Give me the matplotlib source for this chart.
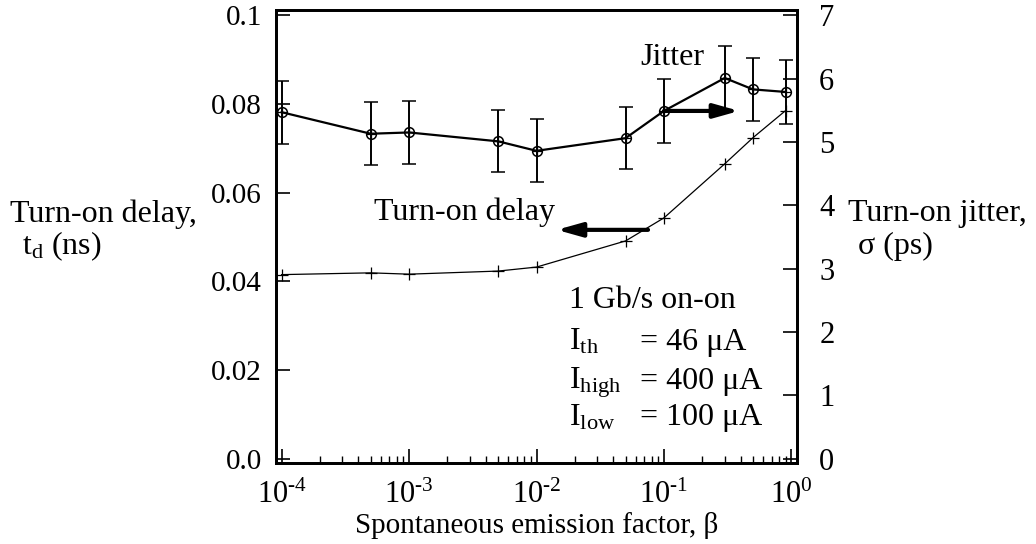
import matplotlib
matplotlib.use("Agg")
import matplotlib.pyplot as plt

plt.rcParams['font.family'] = ['Liberation Serif', 'DejaVu Serif']
plt.rcParams['mathtext.fontset'] = 'custom'
plt.rcParams['mathtext.rm'] = 'Liberation Serif'
plt.rcParams['mathtext.it'] = 'Liberation Serif:italic'
plt.rcParams['mathtext.bf'] = 'Liberation Serif:bold'

# Data
beta = [1e-4, 5e-4, 1e-3, 5e-3, 1e-2, 5e-2, 1e-1, 3e-1, 5e-1, 9e-1]
delay_ns = [0.0415, 0.0419, 0.0416, 0.0423, 0.0432, 0.0491, 0.0543, 0.0665, 0.0724, 0.0785]
jitter_ps = [5.47, 5.13, 5.15, 5.01, 4.86, 5.06, 5.49, 6.01, 5.83, 5.79]
jitter_err = [0.50, 0.50, 0.50, 0.49, 0.50, 0.49, 0.50, 0.50, 0.50, 0.50]

left_ticks = [0.0, 0.02, 0.04, 0.06, 0.08, 0.1]
left_ticklabels = ["0.0", "0.02", "0.04", "0.06", "0.08", "0.1"]
right_ticks = [0, 1, 2, 3, 4, 5, 6, 7]
x_ticks = [1e-4, 1e-3, 1e-2, 1e-1, 1e0]
x_ticklabels = [r"10$^{\text{-4}}$", r"10$^{\text{-3}}$", r"10$^{\text{-2}}$",
                r"10$^{\text{-1}}$", r"10$^{\text{0}}$"]

param_names = [r"I$_{\rm th}$", r"I$_{\rm high}$", r"I$_{\rm low}$"]
param_values = ["= 46 μA", "= 400 μA", "= 100 μA"]

W, H = 1036, 544
fig = plt.figure(figsize=(W / 100, H / 100), dpi=100)
L, R, T, B = 276, 797, 10, 463
ax = fig.add_axes([L / W, 1 - B / H, (R - L) / W, (B - T) / H])
ax2 = ax.twinx()

ax.set_xscale('log')
ax.set_xlim(10 ** -4.044, 10 ** 0.044)
ax.set_ylim(-0.001, 0.1012)
ax2.set_ylim(-0.07, 7.084)

# delay curve
ax.plot(beta, delay_ns, color='black', lw=0.9, marker='+', ms=8, mew=0.9)

# jitter curve
ax2.errorbar(beta, jitter_ps, yerr=jitter_err, color='black', lw=1.6,
             marker='o', ms=7, mfc='none', mew=1.1, capsize=5, elinewidth=1.4, capthick=1.4)
ax2.plot(beta, jitter_ps, ls='none', marker='+', ms=7, mew=0.9, color='black')

# ticks
ax.set_xticks(x_ticks)
ax.set_xticklabels(x_ticklabels, fontsize=22)
ax.set_yticks(left_ticks)
ax.set_yticklabels(left_ticklabels, fontsize=21)
ax2.set_yticks(right_ticks)
ax2.set_yticklabels([str(t) for t in right_ticks], fontsize=22)
ax.tick_params(axis='x', which='major', direction='in', length=10, width=1.2, pad=13, top=False)
ax.tick_params(axis='x', which='minor', direction='in', length=5, width=1.0, top=False)
ax.tick_params(axis='y', which='major', direction='in', length=10, width=1.2, pad=10)
ax2.tick_params(axis='y', which='major', direction='in', length=10, width=1.2, pad=16)
for a in (ax, ax2):
    for s in a.spines.values():
        s.set_linewidth(2.0)

ax.set_xlabel("Spontaneous emission factor, β", fontsize=21, labelpad=1)

fig.text(10 / W, 1 - 214 / H, "Turn-on delay,", fontsize=23, ha='left', va='center')
fig.text(22 / W, 1 - 246 / H, r"t$_{\rm d}$ (ns)", fontsize=23, ha='left', va='center')
fig.text(848 / W, 1 - 214 / H, "Turn-on jitter,", fontsize=23, ha='left', va='center')
fig.text(858 / W, 1 - 246 / H, "σ (ps)", fontsize=23, ha='left', va='center')

# annotations
ax2.text(0.0656, 6.34, "Jitter", fontsize=23, ha='left', va='center')
ax.text(5.3e-4, 0.0556, "Turn-on delay", fontsize=23, ha='left', va='center')

arrow_kw = dict(arrowstyle='-|>,head_length=1.5,head_width=0.42', color='black', lw=3.0,
                shrinkA=0, shrinkB=0)
ax2.annotate("", xy=(0.39, 5.49), xytext=(0.1, 5.49), arrowprops=arrow_kw)
ax.annotate("", xy=(0.0144, 0.0516), xytext=(0.075, 0.0516), arrowprops=arrow_kw)

# parameter block
xl, xr = 569, 640
fig.text(xl / W, 1 - 301 / H, "1 Gb/s on-on", fontsize=23, ha='left', va='center')
for y, lab, val in zip([350, 389, 425], param_names, param_values):
    fig.text(xl / W, 1 - y / H, lab, fontsize=23, ha='left', va='baseline')
    fig.text(xr / W, 1 - y / H, val, fontsize=23, ha='left', va='baseline')

fig.savefig("out.png", dpi=100)
